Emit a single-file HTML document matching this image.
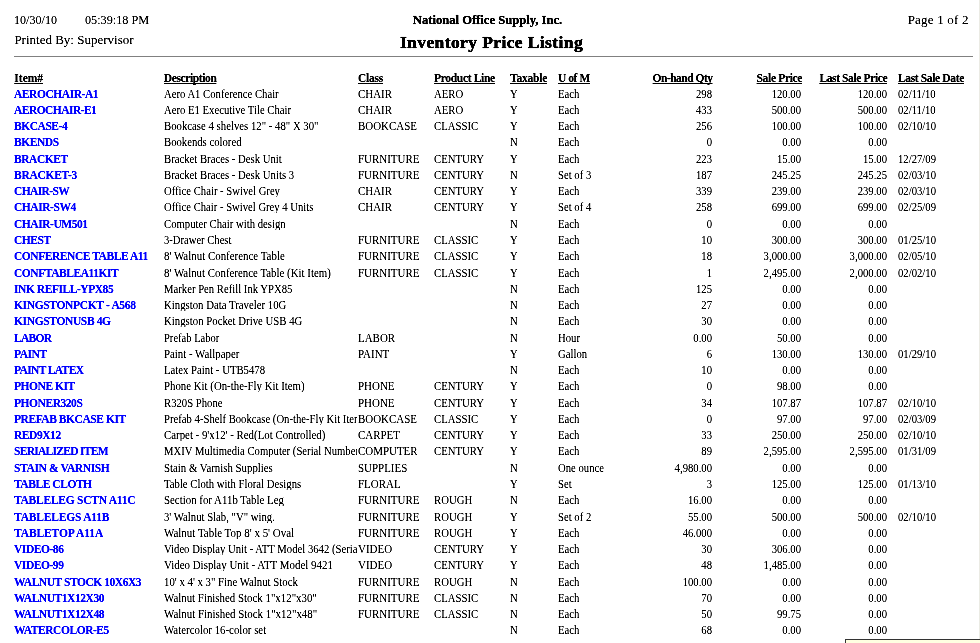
<!DOCTYPE html>
<html><head><meta charset="utf-8"><style>
*{margin:0;padding:0;box-sizing:border-box}
html,body{width:980px;height:643px;overflow:hidden;background:#fff}
body{position:relative;font-family:"Liberation Serif",serif;color:#000}
.c{position:absolute;white-space:nowrap;line-height:1;-webkit-text-stroke:0.15px}
.id,.h{-webkit-text-stroke:0.2px}
#wrap{position:absolute;left:0;top:0;width:980px;height:643px;background:#fff;filter:contrast(1.8)}
.r{text-align:right}
.id{font-weight:bold;color:#0000ff;font-size:11.5px;letter-spacing:-0.45px}
.ds{font-size:12px;transform:scaleX(0.89);transform-origin:0 0}
.mo{font-size:12px;transform:scaleX(0.875);transform-origin:0 0}
.tx{font-size:12px;transform:scaleX(0.89);transform-origin:0 0}
.r.tx{transform-origin:100% 0}
.h{font-weight:bold;font-size:11.5px;letter-spacing:-0.4px;text-decoration:underline;text-decoration-skip-ink:none}
.clip{overflow:hidden;width:216.8px}
</style></head><body>
<div id="wrap">
<div class="c h" style="letter-spacing:0.013px;left:14.30px;top:73px">Item#</div>
<div class="c h" style="letter-spacing:-0.386px;left:163.80px;top:73px">Description</div>
<div class="c h" style="letter-spacing:-0.237px;left:358.00px;top:73px">Class</div>
<div class="c h" style="letter-spacing:-0.328px;left:434.10px;top:73px">Product Line</div>
<div class="c h" style="letter-spacing:-0.221px;left:510.00px;top:73px">Taxable</div>
<div class="c h" style="letter-spacing:-0.450px;left:558.00px;top:73px">U of M</div>
<div class="c r h" style="letter-spacing:-0.506px;right:267.49px;top:73px">On-hand Qty</div>
<div class="c r h" style="letter-spacing:-0.326px;right:177.87px;top:73px">Sale Price</div>
<div class="c r h" style="letter-spacing:-0.377px;right:92.82px;top:73px">Last Sale Price</div>
<div class="c h" style="letter-spacing:-0.358px;left:898.00px;top:73px">Last Sale Date</div>
<div class="c id" style="left:14.00px;top:89px">AEROCHAIR-A1</div>
<div class="c ds clip" style="transform:scaleX(0.8892);width:217.04px;left:164.00px;top:88px">Aero A1 Conference Chair</div>
<div class="c mo" style="transform:scaleX(0.912);left:358.20px;top:88px">CHAIR</div>
<div class="c mo" style="transform:scaleX(0.895);left:434.20px;top:88px">AERO</div>
<div class="c tx" style="left:510.00px;top:88px">Y</div>
<div class="c tx" style="left:558.00px;top:88px">Each</div>
<div class="c r tx" style="right:268.00px;top:88px">298</div>
<div class="c r tx" style="right:179.00px;top:88px">120.00</div>
<div class="c r tx" style="right:93.00px;top:88px">120.00</div>
<div class="c tx" style="left:898.00px;top:88px">02/11/10</div>
<div class="c id" style="letter-spacing:-0.541px;left:14.00px;top:105px">AEROCHAIR-E1</div>
<div class="c ds clip" style="transform:scaleX(0.8907);width:216.68px;left:164.00px;top:104px">Aero E1 Executive Tile Chair</div>
<div class="c mo" style="transform:scaleX(0.912);left:358.20px;top:104px">CHAIR</div>
<div class="c mo" style="transform:scaleX(0.895);left:434.20px;top:104px">AERO</div>
<div class="c tx" style="left:510.00px;top:104px">Y</div>
<div class="c tx" style="left:558.00px;top:104px">Each</div>
<div class="c r tx" style="right:268.00px;top:104px">433</div>
<div class="c r tx" style="right:179.00px;top:104px">500.00</div>
<div class="c r tx" style="right:93.00px;top:104px">500.00</div>
<div class="c tx" style="left:898.00px;top:104px">02/11/10</div>
<div class="c id" style="left:14.00px;top:121px">BKCASE-4</div>
<div class="c ds clip" style="transform:scaleX(0.8964);width:215.30px;left:164.00px;top:120px">Bookcase 4 shelves 12" - 48" X 30"</div>
<div class="c mo" style="transform:scaleX(0.912);left:358.20px;top:120px">BOOKCASE</div>
<div class="c mo" style="transform:scaleX(0.895);left:434.20px;top:120px">CLASSIC</div>
<div class="c tx" style="left:510.00px;top:120px">Y</div>
<div class="c tx" style="left:558.00px;top:120px">Each</div>
<div class="c r tx" style="right:268.00px;top:120px">256</div>
<div class="c r tx" style="right:179.00px;top:120px">100.00</div>
<div class="c r tx" style="right:93.00px;top:120px">100.00</div>
<div class="c tx" style="left:898.00px;top:120px">02/10/10</div>
<div class="c id" style="left:14.00px;top:137px">BKENDS</div>
<div class="c ds clip" style="transform:scaleX(0.8912);width:216.57px;left:164.00px;top:136px">Bookends colored</div>
<div class="c tx" style="left:510.00px;top:136px">N</div>
<div class="c tx" style="left:558.00px;top:136px">Each</div>
<div class="c r tx" style="right:268.00px;top:136px">0</div>
<div class="c r tx" style="right:179.00px;top:136px">0.00</div>
<div class="c r tx" style="right:93.00px;top:136px">0.00</div>
<div class="c id" style="left:14.00px;top:154px">BRACKET</div>
<div class="c ds clip" style="transform:scaleX(0.8923);width:216.29px;left:164.00px;top:153px">Bracket Braces - Desk Unit</div>
<div class="c mo" style="transform:scaleX(0.912);left:358.20px;top:153px">FURNITURE</div>
<div class="c mo" style="transform:scaleX(0.895);left:434.20px;top:153px">CENTURY</div>
<div class="c tx" style="left:510.00px;top:153px">Y</div>
<div class="c tx" style="left:558.00px;top:153px">Each</div>
<div class="c r tx" style="right:268.00px;top:153px">223</div>
<div class="c r tx" style="right:179.00px;top:153px">15.00</div>
<div class="c r tx" style="right:93.00px;top:153px">15.00</div>
<div class="c tx" style="left:898.00px;top:153px">12/27/09</div>
<div class="c id" style="letter-spacing:-0.275px;left:14.00px;top:170px">BRACKET-3</div>
<div class="c ds clip" style="transform:scaleX(0.8935);width:216.01px;left:164.00px;top:169px">Bracket Braces - Desk Units 3</div>
<div class="c mo" style="transform:scaleX(0.912);left:358.20px;top:169px">FURNITURE</div>
<div class="c mo" style="transform:scaleX(0.895);left:434.20px;top:169px">CENTURY</div>
<div class="c tx" style="left:510.00px;top:169px">N</div>
<div class="c tx" style="left:558.00px;top:169px">Set of 3</div>
<div class="c r tx" style="right:268.00px;top:169px">187</div>
<div class="c r tx" style="right:179.00px;top:169px">245.25</div>
<div class="c r tx" style="right:93.00px;top:169px">245.25</div>
<div class="c tx" style="left:898.00px;top:169px">02/03/10</div>
<div class="c id" style="letter-spacing:-0.607px;left:14.00px;top:186px">CHAIR-SW</div>
<div class="c ds clip" style="transform:scaleX(0.8892);width:217.04px;left:164.00px;top:185px">Office Chair - Swivel Grey</div>
<div class="c mo" style="transform:scaleX(0.912);left:358.20px;top:185px">CHAIR</div>
<div class="c mo" style="transform:scaleX(0.895);left:434.20px;top:185px">CENTURY</div>
<div class="c tx" style="left:510.00px;top:185px">Y</div>
<div class="c tx" style="left:558.00px;top:185px">Each</div>
<div class="c r tx" style="right:268.00px;top:185px">339</div>
<div class="c r tx" style="right:179.00px;top:185px">239.00</div>
<div class="c r tx" style="right:93.00px;top:185px">239.00</div>
<div class="c tx" style="left:898.00px;top:185px">02/03/10</div>
<div class="c id" style="left:14.00px;top:202px">CHAIR-SW4</div>
<div class="c ds clip" style="transform:scaleX(0.8870);width:217.58px;left:164.00px;top:201px">Office Chair - Swivel Grey 4 Units</div>
<div class="c mo" style="transform:scaleX(0.912);left:358.20px;top:201px">CHAIR</div>
<div class="c mo" style="transform:scaleX(0.895);left:434.20px;top:201px">CENTURY</div>
<div class="c tx" style="left:510.00px;top:201px">Y</div>
<div class="c tx" style="left:558.00px;top:201px">Set of 4</div>
<div class="c r tx" style="right:268.00px;top:201px">258</div>
<div class="c r tx" style="right:179.00px;top:201px">699.00</div>
<div class="c r tx" style="right:93.00px;top:201px">699.00</div>
<div class="c tx" style="left:898.00px;top:201px">02/25/09</div>
<div class="c id" style="left:14.00px;top:219px">CHAIR-UM501</div>
<div class="c ds clip" style="transform:scaleX(0.8930);width:216.13px;left:164.00px;top:218px">Computer Chair with design</div>
<div class="c tx" style="left:510.00px;top:218px">N</div>
<div class="c tx" style="left:558.00px;top:218px">Each</div>
<div class="c r tx" style="right:268.00px;top:218px">0</div>
<div class="c r tx" style="right:179.00px;top:218px">0.00</div>
<div class="c r tx" style="right:93.00px;top:218px">0.00</div>
<div class="c id" style="left:14.00px;top:235px">CHEST</div>
<div class="c ds clip" style="transform:scaleX(0.8834);width:218.48px;left:164.00px;top:234px">3-Drawer Chest</div>
<div class="c mo" style="transform:scaleX(0.912);left:358.20px;top:234px">FURNITURE</div>
<div class="c mo" style="transform:scaleX(0.895);left:434.20px;top:234px">CLASSIC</div>
<div class="c tx" style="left:510.00px;top:234px">Y</div>
<div class="c tx" style="left:558.00px;top:234px">Each</div>
<div class="c r tx" style="right:268.00px;top:234px">10</div>
<div class="c r tx" style="right:179.00px;top:234px">300.00</div>
<div class="c r tx" style="right:93.00px;top:234px">300.00</div>
<div class="c tx" style="left:898.00px;top:234px">01/25/10</div>
<div class="c id" style="left:14.00px;top:251px">CONFERENCE TABLE A11</div>
<div class="c ds clip" style="transform:scaleX(0.9090);width:212.32px;left:164.00px;top:250px">8' Walnut Conference Table</div>
<div class="c mo" style="transform:scaleX(0.912);left:358.20px;top:250px">FURNITURE</div>
<div class="c mo" style="transform:scaleX(0.895);left:434.20px;top:250px">CLASSIC</div>
<div class="c tx" style="left:510.00px;top:250px">Y</div>
<div class="c tx" style="left:558.00px;top:250px">Each</div>
<div class="c r tx" style="right:268.00px;top:250px">18</div>
<div class="c r tx" style="right:179.00px;top:250px">3,000.00</div>
<div class="c r tx" style="right:93.00px;top:250px">3,000.00</div>
<div class="c tx" style="left:898.00px;top:250px">02/05/10</div>
<div class="c id" style="left:14.00px;top:268px">CONFTABLEA11KIT</div>
<div class="c ds clip" style="transform:scaleX(0.9059);width:213.04px;left:164.00px;top:267px">8' Walnut Conference Table (Kit Item)</div>
<div class="c mo" style="transform:scaleX(0.912);left:358.20px;top:267px">FURNITURE</div>
<div class="c mo" style="transform:scaleX(0.895);left:434.20px;top:267px">CLASSIC</div>
<div class="c tx" style="left:510.00px;top:267px">Y</div>
<div class="c tx" style="left:558.00px;top:267px">Each</div>
<div class="c r tx" style="right:268.00px;top:267px">1</div>
<div class="c r tx" style="right:179.00px;top:267px">2,495.00</div>
<div class="c r tx" style="right:93.00px;top:267px">2,000.00</div>
<div class="c tx" style="left:898.00px;top:267px">02/02/10</div>
<div class="c id" style="left:14.00px;top:284px">INK REFILL-YPX85</div>
<div class="c ds clip" style="transform:scaleX(0.8907);width:216.68px;left:164.00px;top:283px">Marker Pen Refill Ink YPX85</div>
<div class="c tx" style="left:510.00px;top:283px">N</div>
<div class="c tx" style="left:558.00px;top:283px">Each</div>
<div class="c r tx" style="right:268.00px;top:283px">125</div>
<div class="c r tx" style="right:179.00px;top:283px">0.00</div>
<div class="c r tx" style="right:93.00px;top:283px">0.00</div>
<div class="c id" style="letter-spacing:-0.339px;left:14.00px;top:300px">KINGSTONPCKT - A568</div>
<div class="c ds clip" style="transform:scaleX(0.8975);width:215.05px;left:164.00px;top:299px">Kingston Data Traveler 10G</div>
<div class="c tx" style="left:510.00px;top:299px">N</div>
<div class="c tx" style="left:558.00px;top:299px">Each</div>
<div class="c r tx" style="right:268.00px;top:299px">27</div>
<div class="c r tx" style="right:179.00px;top:299px">0.00</div>
<div class="c r tx" style="right:93.00px;top:299px">0.00</div>
<div class="c id" style="letter-spacing:-0.358px;left:14.00px;top:316px">KINGSTONUSB 4G</div>
<div class="c ds clip" style="transform:scaleX(0.8986);width:214.79px;left:164.00px;top:315px">Kingston Pocket Drive USB 4G</div>
<div class="c tx" style="left:510.00px;top:315px">N</div>
<div class="c tx" style="left:558.00px;top:315px">Each</div>
<div class="c r tx" style="right:268.00px;top:315px">30</div>
<div class="c r tx" style="right:179.00px;top:315px">0.00</div>
<div class="c r tx" style="right:93.00px;top:315px">0.00</div>
<div class="c id" style="letter-spacing:-0.725px;left:14.00px;top:333px">LABOR</div>
<div class="c ds clip" style="transform:scaleX(0.8787);width:219.65px;left:164.00px;top:332px">Prefab Labor</div>
<div class="c mo" style="transform:scaleX(0.912);left:358.20px;top:332px">LABOR</div>
<div class="c tx" style="left:510.00px;top:332px">N</div>
<div class="c tx" style="left:558.00px;top:332px">Hour</div>
<div class="c r tx" style="right:268.00px;top:332px">0.00</div>
<div class="c r tx" style="right:179.00px;top:332px">50.00</div>
<div class="c r tx" style="right:93.00px;top:332px">0.00</div>
<div class="c id" style="left:14.00px;top:349px">PAINT</div>
<div class="c ds clip" style="transform:scaleX(0.9034);width:213.63px;left:164.00px;top:348px">Paint - Wallpaper</div>
<div class="c mo" style="transform:scaleX(0.912);left:358.20px;top:348px">PAINT</div>
<div class="c tx" style="left:510.00px;top:348px">Y</div>
<div class="c tx" style="left:558.00px;top:348px">Gallon</div>
<div class="c r tx" style="right:268.00px;top:348px">6</div>
<div class="c r tx" style="right:179.00px;top:348px">130.00</div>
<div class="c r tx" style="right:93.00px;top:348px">130.00</div>
<div class="c tx" style="left:898.00px;top:348px">01/29/10</div>
<div class="c id" style="letter-spacing:-0.640px;left:14.00px;top:365px">PAINT LATEX</div>
<div class="c ds clip" style="transform:scaleX(0.8945);width:215.76px;left:164.00px;top:364px">Latex Paint - UTB5478</div>
<div class="c tx" style="left:510.00px;top:364px">N</div>
<div class="c tx" style="left:558.00px;top:364px">Each</div>
<div class="c r tx" style="right:268.00px;top:364px">10</div>
<div class="c r tx" style="right:179.00px;top:364px">0.00</div>
<div class="c r tx" style="right:93.00px;top:364px">0.00</div>
<div class="c id" style="left:14.00px;top:381px">PHONE KIT</div>
<div class="c ds clip" style="transform:scaleX(0.9017);width:214.04px;left:164.00px;top:380px">Phone Kit (On-the-Fly Kit Item)</div>
<div class="c mo" style="transform:scaleX(0.912);left:358.20px;top:380px">PHONE</div>
<div class="c mo" style="transform:scaleX(0.895);left:434.20px;top:380px">CENTURY</div>
<div class="c tx" style="left:510.00px;top:380px">Y</div>
<div class="c tx" style="left:558.00px;top:380px">Each</div>
<div class="c r tx" style="right:268.00px;top:380px">0</div>
<div class="c r tx" style="right:179.00px;top:380px">98.00</div>
<div class="c r tx" style="right:93.00px;top:380px">0.00</div>
<div class="c id" style="left:14.00px;top:398px">PHONER320S</div>
<div class="c ds clip" style="transform:scaleX(0.8916);width:216.47px;left:164.00px;top:397px">R320S Phone</div>
<div class="c mo" style="transform:scaleX(0.912);left:358.20px;top:397px">PHONE</div>
<div class="c mo" style="transform:scaleX(0.895);left:434.20px;top:397px">CENTURY</div>
<div class="c tx" style="left:510.00px;top:397px">Y</div>
<div class="c tx" style="left:558.00px;top:397px">Each</div>
<div class="c r tx" style="right:268.00px;top:397px">34</div>
<div class="c r tx" style="right:179.00px;top:397px">107.87</div>
<div class="c r tx" style="right:93.00px;top:397px">107.87</div>
<div class="c tx" style="left:898.00px;top:397px">02/10/10</div>
<div class="c id" style="left:14.00px;top:414px">PREFAB BKCASE KIT</div>
<div class="c ds clip" style="left:164.00px;top:413px">Prefab 4-Shelf Bookcase (On-the-Fly Kit Item)</div>
<div class="c mo" style="transform:scaleX(0.912);left:358.20px;top:413px">BOOKCASE</div>
<div class="c mo" style="transform:scaleX(0.895);left:434.20px;top:413px">CLASSIC</div>
<div class="c tx" style="left:510.00px;top:413px">Y</div>
<div class="c tx" style="left:558.00px;top:413px">Each</div>
<div class="c r tx" style="right:268.00px;top:413px">0</div>
<div class="c r tx" style="right:179.00px;top:413px">97.00</div>
<div class="c r tx" style="right:93.00px;top:413px">97.00</div>
<div class="c tx" style="left:898.00px;top:413px">02/03/09</div>
<div class="c id" style="left:14.00px;top:430px">RED9X12</div>
<div class="c ds clip" style="transform:scaleX(0.9035);width:213.61px;left:164.00px;top:429px">Carpet - 9'x12' - Red(Lot Controlled)</div>
<div class="c mo" style="transform:scaleX(0.912);left:358.20px;top:429px">CARPET</div>
<div class="c mo" style="transform:scaleX(0.895);left:434.20px;top:429px">CENTURY</div>
<div class="c tx" style="left:510.00px;top:429px">Y</div>
<div class="c tx" style="left:558.00px;top:429px">Each</div>
<div class="c r tx" style="right:268.00px;top:429px">33</div>
<div class="c r tx" style="right:179.00px;top:429px">250.00</div>
<div class="c r tx" style="right:93.00px;top:429px">250.00</div>
<div class="c tx" style="left:898.00px;top:429px">02/10/10</div>
<div class="c id" style="letter-spacing:-0.714px;left:14.00px;top:446px">SERIALIZED ITEM</div>
<div class="c ds clip" style="left:164.00px;top:445px">MXIV Multimedia Computer (Serial Number)</div>
<div class="c mo" style="transform:scaleX(0.912);left:358.20px;top:445px">COMPUTER</div>
<div class="c mo" style="transform:scaleX(0.895);left:434.20px;top:445px">CENTURY</div>
<div class="c tx" style="left:510.00px;top:445px">Y</div>
<div class="c tx" style="left:558.00px;top:445px">Each</div>
<div class="c r tx" style="right:268.00px;top:445px">89</div>
<div class="c r tx" style="right:179.00px;top:445px">2,595.00</div>
<div class="c r tx" style="right:93.00px;top:445px">2,595.00</div>
<div class="c tx" style="left:898.00px;top:445px">01/31/09</div>
<div class="c id" style="letter-spacing:-0.371px;left:14.00px;top:463px">STAIN &amp; VARNISH</div>
<div class="c ds clip" style="transform:scaleX(0.9009);width:214.23px;left:164.00px;top:462px">Stain &amp; Varnish Supplies</div>
<div class="c mo" style="transform:scaleX(0.912);left:358.20px;top:462px">SUPPLIES</div>
<div class="c tx" style="left:510.00px;top:462px">N</div>
<div class="c tx" style="left:558.00px;top:462px">One ounce</div>
<div class="c r tx" style="right:268.00px;top:462px">4,980.00</div>
<div class="c r tx" style="right:179.00px;top:462px">0.00</div>
<div class="c r tx" style="right:93.00px;top:462px">0.00</div>
<div class="c id" style="left:14.00px;top:479px">TABLE CLOTH</div>
<div class="c ds clip" style="transform:scaleX(0.8920);width:216.38px;left:164.00px;top:478px">Table Cloth with Floral Designs</div>
<div class="c mo" style="transform:scaleX(0.912);left:358.20px;top:478px">FLORAL</div>
<div class="c tx" style="left:510.00px;top:478px">Y</div>
<div class="c tx" style="left:558.00px;top:478px">Set</div>
<div class="c r tx" style="right:268.00px;top:478px">3</div>
<div class="c r tx" style="right:179.00px;top:478px">125.00</div>
<div class="c r tx" style="right:93.00px;top:478px">125.00</div>
<div class="c tx" style="left:898.00px;top:478px">01/13/10</div>
<div class="c id" style="letter-spacing:-0.250px;left:14.00px;top:495px">TABLELEG SCTN A11C</div>
<div class="c ds clip" style="transform:scaleX(0.9052);width:213.21px;left:164.00px;top:494px">Section for A11b Table Leg</div>
<div class="c mo" style="transform:scaleX(0.912);left:358.20px;top:494px">FURNITURE</div>
<div class="c mo" style="transform:scaleX(0.895);left:434.20px;top:494px">ROUGH</div>
<div class="c tx" style="left:510.00px;top:494px">N</div>
<div class="c tx" style="left:558.00px;top:494px">Each</div>
<div class="c r tx" style="right:268.00px;top:494px">16.00</div>
<div class="c r tx" style="right:179.00px;top:494px">0.00</div>
<div class="c r tx" style="right:93.00px;top:494px">0.00</div>
<div class="c id" style="letter-spacing:-0.181px;left:14.00px;top:512px">TABLELEGS A11B</div>
<div class="c ds clip" style="transform:scaleX(0.8933);width:216.06px;left:164.00px;top:511px">3' Walnut Slab, "V" wing.</div>
<div class="c mo" style="transform:scaleX(0.912);left:358.20px;top:511px">FURNITURE</div>
<div class="c mo" style="transform:scaleX(0.895);left:434.20px;top:511px">ROUGH</div>
<div class="c tx" style="left:510.00px;top:511px">Y</div>
<div class="c tx" style="left:558.00px;top:511px">Set of 2</div>
<div class="c r tx" style="right:268.00px;top:511px">55.00</div>
<div class="c r tx" style="right:179.00px;top:511px">500.00</div>
<div class="c r tx" style="right:93.00px;top:511px">500.00</div>
<div class="c tx" style="left:898.00px;top:511px">02/10/10</div>
<div class="c id" style="letter-spacing:-0.117px;left:14.00px;top:528px">TABLETOP A11A</div>
<div class="c ds clip" style="transform:scaleX(0.9128);width:211.44px;left:164.00px;top:527px">Walnut Table Top 8' x 5' Oval</div>
<div class="c mo" style="transform:scaleX(0.912);left:358.20px;top:527px">FURNITURE</div>
<div class="c mo" style="transform:scaleX(0.895);left:434.20px;top:527px">ROUGH</div>
<div class="c tx" style="left:510.00px;top:527px">Y</div>
<div class="c tx" style="left:558.00px;top:527px">Each</div>
<div class="c r tx" style="right:268.00px;top:527px">46.000</div>
<div class="c r tx" style="right:179.00px;top:527px">0.00</div>
<div class="c r tx" style="right:93.00px;top:527px">0.00</div>
<div class="c id" style="left:14.00px;top:544px">VIDEO-86</div>
<div class="c ds clip" style="left:164.00px;top:543px">Video Display Unit - ATT Model 3642 (Serial)</div>
<div class="c mo" style="transform:scaleX(0.912);left:358.20px;top:543px">VIDEO</div>
<div class="c mo" style="transform:scaleX(0.895);left:434.20px;top:543px">CENTURY</div>
<div class="c tx" style="left:510.00px;top:543px">Y</div>
<div class="c tx" style="left:558.00px;top:543px">Each</div>
<div class="c r tx" style="right:268.00px;top:543px">30</div>
<div class="c r tx" style="right:179.00px;top:543px">306.00</div>
<div class="c r tx" style="right:93.00px;top:543px">0.00</div>
<div class="c id" style="left:14.00px;top:560px">VIDEO-99</div>
<div class="c ds clip" style="transform:scaleX(0.9091);width:212.30px;left:164.00px;top:559px">Video Display Unit - ATT Model 9421</div>
<div class="c mo" style="transform:scaleX(0.912);left:358.20px;top:559px">VIDEO</div>
<div class="c mo" style="transform:scaleX(0.895);left:434.20px;top:559px">CENTURY</div>
<div class="c tx" style="left:510.00px;top:559px">Y</div>
<div class="c tx" style="left:558.00px;top:559px">Each</div>
<div class="c r tx" style="right:268.00px;top:559px">48</div>
<div class="c r tx" style="right:179.00px;top:559px">1,485.00</div>
<div class="c r tx" style="right:93.00px;top:559px">0.00</div>
<div class="c id" style="left:14.00px;top:577px">WALNUT STOCK 10X6X3</div>
<div class="c ds clip" style="transform:scaleX(0.8982);width:214.89px;left:164.00px;top:576px">10' x 4' x 3" Fine Walnut Stock</div>
<div class="c mo" style="transform:scaleX(0.912);left:358.20px;top:576px">FURNITURE</div>
<div class="c mo" style="transform:scaleX(0.895);left:434.20px;top:576px">ROUGH</div>
<div class="c tx" style="left:510.00px;top:576px">N</div>
<div class="c tx" style="left:558.00px;top:576px">Each</div>
<div class="c r tx" style="right:268.00px;top:576px">100.00</div>
<div class="c r tx" style="right:179.00px;top:576px">0.00</div>
<div class="c r tx" style="right:93.00px;top:576px">0.00</div>
<div class="c id" style="left:14.00px;top:593px">WALNUT1X12X30</div>
<div class="c ds clip" style="transform:scaleX(0.9056);width:213.11px;left:164.00px;top:592px">Walnut Finished Stock 1"x12"x30"</div>
<div class="c mo" style="transform:scaleX(0.912);left:358.20px;top:592px">FURNITURE</div>
<div class="c mo" style="transform:scaleX(0.895);left:434.20px;top:592px">CLASSIC</div>
<div class="c tx" style="left:510.00px;top:592px">N</div>
<div class="c tx" style="left:558.00px;top:592px">Each</div>
<div class="c r tx" style="right:268.00px;top:592px">70</div>
<div class="c r tx" style="right:179.00px;top:592px">0.00</div>
<div class="c r tx" style="right:93.00px;top:592px">0.00</div>
<div class="c id" style="left:14.00px;top:609px">WALNUT1X12X48</div>
<div class="c ds clip" style="transform:scaleX(0.9080);width:212.55px;left:164.00px;top:608px">Walnut Finished Stock 1"x12"x48"</div>
<div class="c mo" style="transform:scaleX(0.912);left:358.20px;top:608px">FURNITURE</div>
<div class="c mo" style="transform:scaleX(0.895);left:434.20px;top:608px">CLASSIC</div>
<div class="c tx" style="left:510.00px;top:608px">N</div>
<div class="c tx" style="left:558.00px;top:608px">Each</div>
<div class="c r tx" style="right:268.00px;top:608px">50</div>
<div class="c r tx" style="right:179.00px;top:608px">99.75</div>
<div class="c r tx" style="right:93.00px;top:608px">0.00</div>
<div class="c id" style="left:14.00px;top:625px">WATERCOLOR-E5</div>
<div class="c ds clip" style="transform:scaleX(0.9044);width:213.40px;left:164.00px;top:624px">Watercolor 16-color set</div>
<div class="c tx" style="left:510.00px;top:624px">N</div>
<div class="c tx" style="left:558.00px;top:624px">Each</div>
<div class="c r tx" style="right:268.00px;top:624px">68</div>
<div class="c r tx" style="right:179.00px;top:624px">0.00</div>
<div class="c r tx" style="right:93.00px;top:624px">0.00</div>
<div class="c" style="left:14.2px;top:13px;font-size:13px;transform:scaleX(0.93);transform-origin:0 0">10/30/10</div>
<div class="c" style="left:84.8px;top:13px;font-size:13px;transform:scaleX(0.94);transform-origin:0 0">05:39:18 PM</div>
<div class="c" style="left:14.4px;top:32.81px;font-size:13px">Printed By: Supervisor</div>
<div class="c" style="left:0;width:975px;text-align:center;top:13.75px;font-size:12.6px;font-weight:bold;-webkit-text-stroke:0.35px">National Office Supply, Inc.</div>
<div class="c" style="left:0;width:983px;text-align:center;top:33.64px;font-size:17.5px;font-weight:bold;letter-spacing:0.4px;-webkit-text-stroke:0.55px">Inventory Price Listing</div>
<div class="c" style="right:11.30px;top:12.51px;font-size:13px;letter-spacing:0.2px">Page 1 of 2</div>
</div>
<div style="position:absolute;left:14px;top:56px;width:959px;height:1px;background:#808080"></div>
<div style="position:absolute;left:979px;top:0;width:1px;height:643px;background:#ebebe4"></div>
<div style="position:absolute;left:845px;top:639px;width:135px;height:4px;background:#ffffe1;border-left:1px solid #333;border-top:1px solid #333"></div>
</body></html>
